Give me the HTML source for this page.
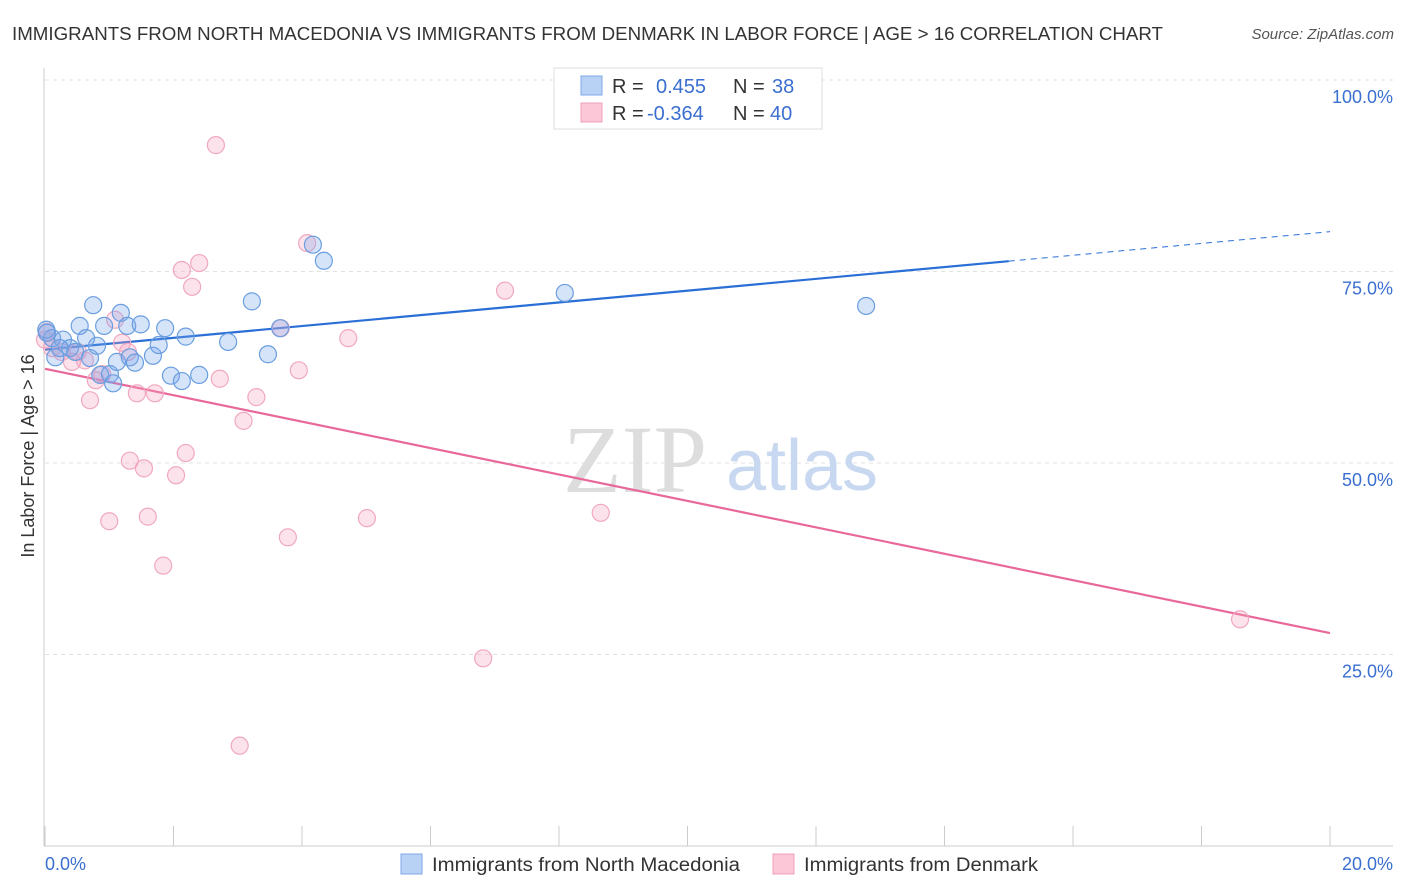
<!DOCTYPE html>
<html><head><meta charset="utf-8"><style>
body{margin:0;background:#fff;font-family:"Liberation Sans",sans-serif;}
svg{display:block}
</style></head><body>
<svg id="chart" width="1406" height="892" xmlns="http://www.w3.org/2000/svg">
<text x="12" y="40" font-size="18" fill="#333" textLength="1151" lengthAdjust="spacingAndGlyphs">IMMIGRANTS FROM NORTH MACEDONIA VS IMMIGRANTS FROM DENMARK IN LABOR FORCE | AGE &gt; 16 CORRELATION CHART</text>
<text x="1394" y="39" font-size="15" fill="#555" font-style="italic" text-anchor="end">Source: ZipAtlas.com</text>
<g id="grid"></g>
<text x="635" y="492" font-size="96" font-family="Liberation Serif,serif" fill="#ddd" text-anchor="middle">ZIP</text>
<text x="802" y="490" font-size="72" fill="#c8d8f0" text-anchor="middle">atlas</text>
<g id="lines"></g>
<g id="points"></g>
<text x="34" y="456" font-size="18" fill="#333" text-anchor="middle" transform="rotate(-90 34 456)">In Labor Force | Age &gt; 16</text>
<g>
<rect x="554" y="68" width="268" height="61" fill="#fff" stroke="#ddd"/>
<rect x="581" y="76" width="21" height="19" fill="#b8d2f5" stroke="#7eaae6"/>
<rect x="581" y="103" width="21" height="19" fill="#fcc8d8" stroke="#f0a0b8"/>
<text x="612" y="93" font-size="20" fill="#333">R = <tspan x="656" fill="#3a6fd0">0.455</tspan><tspan x="733" fill="#333">N = </tspan><tspan x="772" fill="#3a6fd0">38</tspan></text>
<text x="612" y="120" font-size="20" fill="#333">R = <tspan x="647" fill="#3a6fd0">-0.364</tspan><tspan x="733" fill="#333">N = </tspan><tspan x="770" fill="#3a6fd0">40</tspan></text>
</g>
<g>
<rect x="401" y="854" width="21" height="20" fill="#b8d2f5" stroke="#7eaae6"/>
<text x="432" y="871" font-size="19" fill="#333" textLength="308" lengthAdjust="spacingAndGlyphs">Immigrants from North Macedonia</text>
<rect x="773" y="854" width="21" height="20" fill="#fcc8d8" stroke="#f0a0b8"/>
<text x="804" y="871" font-size="19" fill="#333" textLength="234" lengthAdjust="spacingAndGlyphs">Immigrants from Denmark</text>
</g>
</svg>
<script>
const blueX=[0.03,0.11,0.16,0.28,0.39,0.47,0.54,0.64,0.70,0.75,0.81,0.86,0.92,1.01,1.06,1.12,1.18,1.28,1.32,1.40,1.49,1.68,1.77,1.87,1.96,2.13,2.19,2.40,2.85,3.22,3.47,3.66,4.17,4.34,8.09,12.78,0.02,0.23];
const blueY=[67.0,66.3,63.8,66.1,65.0,64.5,67.9,66.3,63.7,70.6,65.3,61.5,67.9,61.6,60.4,63.2,69.6,67.9,63.8,63.1,68.1,64.0,65.4,67.6,61.4,60.7,66.5,61.5,65.8,71.1,64.2,67.6,78.5,76.4,72.2,70.5,67.4,65.0];
const pinkX=[0.03,0.11,0.26,0.42,0.51,0.62,0.70,0.79,0.89,1.0,1.09,1.2,1.29,1.32,1.43,1.54,1.6,1.71,1.84,2.04,2.13,2.19,2.29,2.40,2.66,2.72,3.03,3.09,3.29,3.67,3.78,3.95,4.08,4.72,5.01,6.82,7.16,8.65,18.6,0.0];
const pinkY=[67.1,65.0,64.5,63.2,64.5,63.4,58.2,60.8,61.6,42.4,68.7,65.7,64.5,50.3,59.1,49.3,43.0,59.1,36.6,48.4,75.2,51.3,73.0,76.1,91.5,61.0,13.1,55.5,58.6,67.6,40.3,62.1,78.7,66.3,42.8,24.5,72.5,43.5,29.6,66.1];
const blueTrend=[64.8,80.2];  // y at x=0 and x=20
const pinkTrend=[62.3,27.8];
const yTicks=[25,50,75,100];
const yTickLabels=["25.0%","50.0%","75.0%","100.0%"];
const xTickLabels=["0.0%","20.0%"];
const NS="http://www.w3.org/2000/svg";
const X=v=>45+v/20*1285, Y=v=>846-v/100*766;
function mk(tag,attrs,parent){const e=document.createElementNS(NS,tag);for(const k in attrs)e.setAttribute(k,attrs[k]);parent.appendChild(e);return e;}
const grid=document.getElementById('grid');
yTicks.forEach((t,i)=>{
 const l=mk('line',{x1:45,x2:1393,y1:Y(t),y2:Y(t),stroke:'#e2e2e2','stroke-dasharray':'4,4'},grid);
 
 
 const tx=mk('text',{x:1393,y:Y(t)+23,'font-size':18,fill:'#3a6fd0','text-anchor':'end'},grid);
 tx.textContent=yTickLabels[i];
 
 
});
const ax=mk('line',{x1:44,x2:44,y1:68,y2:846,stroke:'#ccc'},grid);


const bx=mk('line',{x1:44,x2:1393,y1:846,y2:846,stroke:'#ccc'},grid);


for(let i=0;i<=10;i++){
 const t=mk('line',{x1:X(i*2),x2:X(i*2),y1:826,y2:846,stroke:'#ccc'},grid);
 
 
}
[[0,'start',45],[20,'end',1393]].forEach((d,i)=>{
 const tx=mk('text',{x:d[2],y:870,'font-size':18,fill:'#3a6fd0','text-anchor':d[1]},grid);
 tx.textContent=xTickLabels[i];
 
 
});
const lines=document.getElementById('lines');
const by=x=>blueTrend[0]+(blueTrend[1]-blueTrend[0])*x/20;
const l1=mk('line',{x1:X(0),y1:Y(by(0)),x2:X(15),y2:Y(by(15)),stroke:'#2a6fd6','stroke-width':2.2},lines);


const l2=mk('line',{x1:X(15),y1:Y(by(15)),x2:X(20),y2:Y(by(20)),stroke:'#2a6fd6','stroke-width':1,'stroke-dasharray':'6,5'},lines);


const l3=mk('line',{x1:X(0),y1:Y(pinkTrend[0]),x2:X(20),y2:Y(pinkTrend[1]),stroke:'#e8689a','stroke-width':2.2},lines);


const pts=document.getElementById('points');
pinkX.forEach((x,i)=>{
 const c=mk('circle',{cx:X(x),cy:Y(pinkY[i]),r:8.5,fill:'rgba(245,160,190,0.3)',stroke:'#f0a8c0','stroke-width':1.2},pts);
 
 
});
blueX.forEach((x,i)=>{
 const c=mk('circle',{cx:X(x),cy:Y(blueY[i]),r:8.5,fill:'rgba(120,165,235,0.3)',stroke:'#6a9ee0','stroke-width':1.2},pts);
 
 
});
</script>
</body></html>
